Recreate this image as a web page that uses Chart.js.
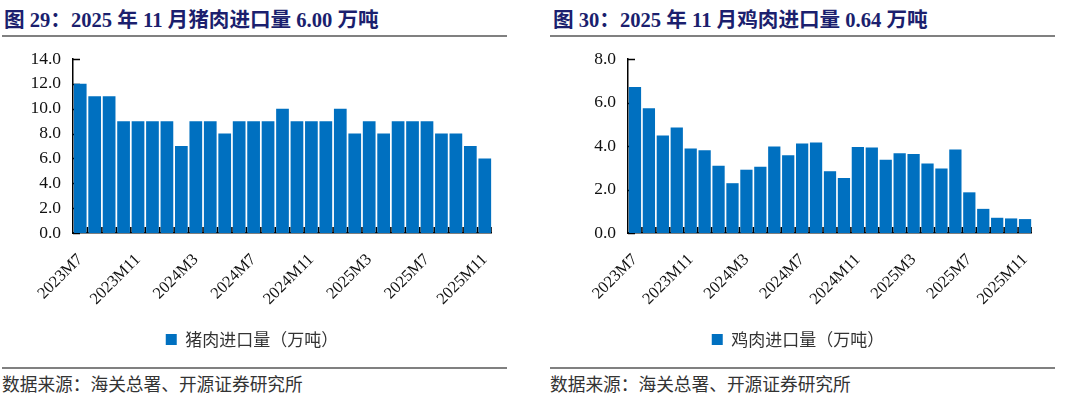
<!DOCTYPE html>
<html>
<head>
<meta charset="utf-8">
<script src="https://cdn.jsdelivr.net/npm/chart.js@4"></script>
<style>
  html, body { margin: 0; padding: 0; background: #fff; }
  body { width: 1080px; height: 395px; position: relative; overflow: hidden; }
  .title { position: absolute; top: 3px; font: bold 20.6px "Liberation Serif", "Noto Sans CJK SC"; color: #1b1f6e; white-space: nowrap; }
  .rule { position: absolute; height: 0; border-top: 2px solid #808080; }
  .src { position: absolute; top: 370px; font: 17.7px "Noto Sans CJK SC"; color: #333; white-space: nowrap; }
  .box { position: absolute; top: 40px; height: 318px; }
</style>
</head>
<body>
<div class="title" style="left:4px">图 29：2025 年 11 月猪肉进口量 6.00 万吨</div>
<div class="title" style="left:553px">图 30：2025 年 11 月鸡肉进口量 0.64 万吨</div>
<div class="rule" style="left:2px; width:505px; top:35px"></div>
<div class="rule" style="left:550px; width:505px; top:35px"></div>
<div class="box" style="left:12px; width:480px"><canvas id="pork"></canvas></div>
<div class="box" style="left:564px; width:468px"><canvas id="chicken"></canvas></div>
<div class="rule" style="left:2px; width:505px; top:367px"></div>
<div class="rule" style="left:550px; width:505px; top:367px"></div>
<div class="src" style="left:2px">数据来源：海关总署、开源证券研究所</div>
<div class="src" style="left:550px">数据来源：海关总署、开源证券研究所</div>
<script>
// 月份（2023M7 ~ 2025M11）
const months = [
  '2023M7', '2023M8', '2023M9', '2023M10', '2023M11', '2023M12',
  '2024M1', '2024M2', '2024M3', '2024M4', '2024M5', '2024M6',
  '2024M7', '2024M8', '2024M9', '2024M10', '2024M11', '2024M12',
  '2025M1', '2025M2', '2025M3', '2025M4', '2025M5', '2025M6',
  '2025M7', '2025M8', '2025M9', '2025M10', '2025M11'
];

// 猪肉进口量（万吨）
const porkImports = [
  12, 11, 11, 9, 9, 9, 9, 7, 9, 9, 8, 9, 9, 9, 10, 9, 9, 9, 10, 8,
  9, 8, 9, 9, 9, 8, 8, 7, 6
];

// 鸡肉进口量（万吨）
const chickenImports = [
  6.71, 5.73, 4.48, 4.85, 3.89, 3.80, 3.09, 2.29, 2.91, 3.05, 3.98, 3.58,
  4.12, 4.16, 2.84, 2.53, 3.95, 3.93, 3.37, 3.67, 3.63, 3.19, 2.96, 3.84,
  1.87, 1.11, 0.70, 0.67, 0.64
];

const porkTicks = [0, 2, 4, 6, 8, 10, 12, 14];
const chickenTicks = [0, 2, 4, 6, 8];

const BLUE = '#0070C0';
const serif = '"Liberation Serif", "Times New Roman", serif';

// 坐标轴内侧刻度线（y 轴向右、x 轴在柱间向上）
const innerTicks = {
  id: 'innerTicks',
  beforeDatasetsDraw(chart) {
    const { ctx, scales: { y } } = chart;
    ctx.save();
    ctx.strokeStyle = '#000';
    ctx.lineWidth = 1.5;
    y.ticks.forEach(t => {
      const py = Math.round(y.getPixelForValue(t.value)) + 0.5;
      ctx.beginPath();
      ctx.moveTo(y.right, py);
      ctx.lineTo(y.right + 7, py);
      ctx.stroke();
    });
    ctx.restore();
  },
  afterDatasetsDraw(chart) {
    const { ctx, scales: { x } } = chart;
    const n = chart.data.labels.length;
    const half = (x.getPixelForValue(1) - x.getPixelForValue(0)) / 2;
    ctx.save();
    ctx.strokeStyle = '#000';
    ctx.lineWidth = 1.5;
    for (let i = 1; i <= n; i++) {
      const px = x.getPixelForValue(i - 1) + half;
      ctx.beginPath();
      ctx.moveTo(px, x.top);
      ctx.lineTo(px, x.top - 6);
      ctx.stroke();
    }
    ctx.restore();
  }
};

function makeChart(id, label, values, ticks, axisWidth) {
  const max = ticks[ticks.length - 1];
  return new Chart(document.getElementById(id), {
    type: 'bar',
    data: {
      labels: months,
      datasets: [{
        label: label,
        data: values,
        backgroundColor: BLUE,
        categoryPercentage: 1,
        barPercentage: 0.88
      }]
    },
    options: {
      responsive: true,
      maintainAspectRatio: false,
      animation: false,
      layout: { padding: { top: 19, left: 0, right: 0, bottom: 0 } },
      plugins: {
        legend: {
          position: 'bottom',
          labels: {
            boxWidth: 11,
            boxHeight: 11,
            padding: 10,
            color: '#333',
            font: { family: '"Noto Sans CJK SC"', size: 17 }
          }
        },
        tooltip: { enabled: false }
      },
      scales: {
        x: {
          grid: { display: false, drawTicks: false },
          border: { display: true, color: '#000', width: 1.5 },
          ticks: {
            autoSkip: false,
            maxRotation: 45,
            minRotation: 45,
            padding: 17,
            color: '#111',
            font: { family: serif, size: 16.5 },
            callback: (v, i) => (i % 4 === 0 ? months[i] : '')
          },
          afterFit: s => {
            s.height = 88;
            s.paddingLeft = 0;
            s.paddingRight = 0;
          }
        },
        y: {
          min: 0,
          max: max,
          grid: { display: false, drawTicks: false },
          border: { display: true, color: '#000', width: 1.5 },
          ticks: {
            stepSize: 2,
            padding: 12,
            color: '#111',
            font: { family: serif, size: 17.5 },
            callback: v => v.toFixed(1)
          },
          afterFit: s => {
            s.width = axisWidth;
            s.paddingTop = 0;
          }
        }
      }
    },
    plugins: [innerTicks]
  });
}

makeChart('pork', '猪肉进口量（万吨）', porkImports, porkTicks, 61);
makeChart('chicken', '鸡肉进口量（万吨）', chickenImports, chickenTicks, 64);
</script>
</body>
</html>
